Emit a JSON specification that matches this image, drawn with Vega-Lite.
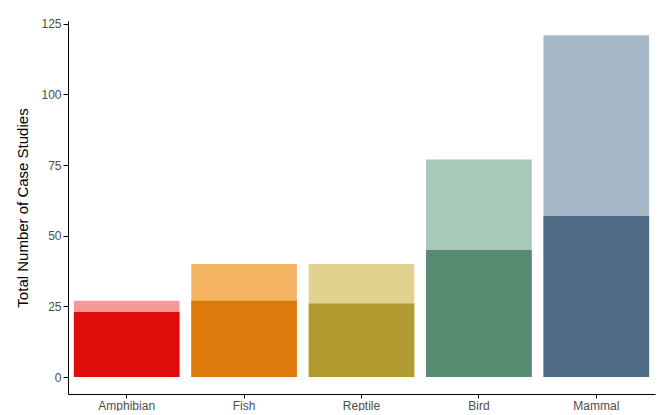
{"$schema":"https://vega.github.io/schema/vega-lite/v6.json","width":587,"height":373,"padding":{"left":15,"top":17,"right":5,"bottom":0},"autosize":{"type":"pad"},"background":"white","config":{"view":{"stroke":null},"font":"Liberation Sans","axis":{"grid":false,"domainColor":"black","tickColor":"black","labelColor":"#4d4d4d","labelFontSize":12,"titleFontSize":15,"titleFontWeight":"normal","titleColor":"black"}},
"data":{"values":[{"taxon":"Amphibian","total":27,"part":23},{"taxon":"Fish","total":40,"part":27},{"taxon":"Reptile","total":40,"part":26},{"taxon":"Bird","total":77,"part":45},{"taxon":"Mammal","total":121,"part":57}]},
"encoding":{"x":{"field":"taxon","type":"nominal","sort":null,"title":null,"scale":{"paddingInner":0.1,"paddingOuter":0.05},"axis":{"labelAngle":0,"labelPadding":2,"tickSize":4}}},
"layer":[{"mark":"bar","encoding":{"y":{"field":"total","type":"quantitative","title":"Total Number of Case Studies","scale":{"domain":[-6,126],"nice":false,"zero":false},"axis":{"values":[0,25,50,75,100,125],"titlePadding":10}},"y2":{"datum":0},"color":{"field":"taxon","type":"nominal","legend":null,"scale":{"domain":["Amphibian","Fish","Reptile","Bird","Mammal"],"range":["#f59a9a","#f5b462","#e3d190","#a8c8b8","#a6b8c8"]}}}},
{"mark":"bar","encoding":{"y":{"field":"part","type":"quantitative"},"y2":{"datum":0},"color":{"field":"taxon","type":"nominal","legend":null,"scale":{"domain":["Amphibian","Fish","Reptile","Bird","Mammal"],"range":["#e00b0b","#dc7b0b","#b39a30","#578c73","#4e6b85"]}}}}],
"resolve":{"scale":{"color":"independent"}}}
